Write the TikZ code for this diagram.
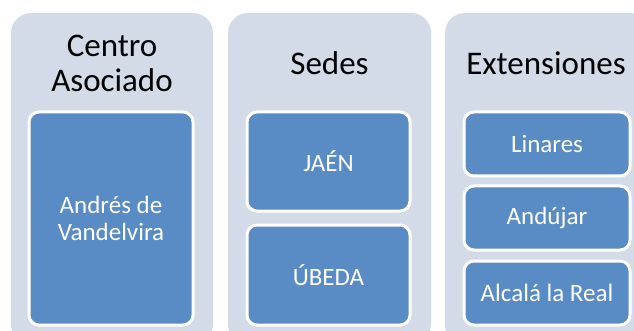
\documentclass[tikz,border=0pt]{standalone}
\usepackage{fontspec}
\setmainfont{Carlito}
\definecolor{panelfill}{RGB}{211,219,232}
\definecolor{boxfill}{RGB}{89,139,196}
\begin{document}
\begin{tikzpicture}[x=1pt,y=-1pt,
  panel/.style={fill=panelfill, rounded corners=20pt},
  title/.style={font=\fontsize{33}{35}\selectfont, text=black, align=center, inner sep=0pt},
  bluebox/.style={rectangle, fill=boxfill, draw=white, line width=3pt, rounded corners=10pt,
     text=white, font=\fontsize{25}{27}\selectfont, align=center, inner sep=0pt}]
\useasboundingbox (0,0) rectangle (634,331);
\clip (0,0) rectangle (634,331);
% panels
\path[panel] (11,13) rectangle (213,345);
\path[panel] (228,13) rectangle (431,345);
\path[panel] (445,13) rectangle (650,345);
% titles
\node[title] (t1) at (112,63) {Centro\\Asociado};
\node[title] (t2) at (329.5,63) {Sedes};
\node[title] (t3) at (546,63) {Extensiones};
% boxes
\node[bluebox, minimum width=164pt, minimum height=213pt] (b1) at (111,218.5) {Andrés de\\Vandelvira};
\node[bluebox, minimum width=163pt, minimum height=99pt] (b2) at (328.5,161.5) {JAÉN};
\node[bluebox, minimum width=163pt, minimum height=100pt] (b3) at (328.5,275) {ÚBEDA};
\node[bluebox, minimum width=166pt, minimum height=64pt] (b4) at (547,144) {Linares};
\node[bluebox, minimum width=166pt, minimum height=64pt] (b5) at (547,218) {Andújar};
\node[bluebox, minimum width=166pt, minimum height=64pt] (b6) at (547,293) {Alcalá la Real};
\end{tikzpicture}
\end{document}
